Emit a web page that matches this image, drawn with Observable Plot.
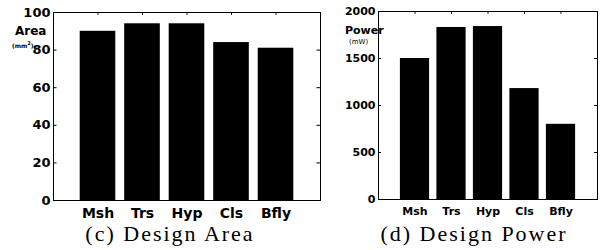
<!DOCTYPE html>
<html>
<head>
<meta charset="utf-8">
<script src="https://cdn.jsdelivr.net/npm/d3@7"></script>
<script src="https://cdn.jsdelivr.net/npm/@observablehq/plot@0.6"></script>
<style>
  html, body { margin: 0; padding: 0; background: #fff; }
  #wrap { position: relative; width: 604px; height: 250px; overflow: hidden; background: #fff; }
  .panel { position: absolute; top: 0; }
  .cap { position: absolute; font-family: "Liberation Serif", "DejaVu Serif", serif; font-size: 22px; letter-spacing: 2px; color: #000; white-space: nowrap; transform: translateX(-50%); line-height: 1; }
  .ylab { position: absolute; font-family: "DejaVu Sans", sans-serif; font-weight: bold; color: #000; white-space: nowrap; line-height: 1; }
</style>
</head>
<body>
<div id="wrap">
  <div id="left" class="panel" style="left:0px"></div>
  <div id="right" class="panel" style="left:330px"></div>
  <div class="ylab" style="left:15px; top:25px; font-size:12px;">Area</div>
  <div class="ylab" style="left:12px; top:41px; font-size:6px;">(mm<sup style="font-size:5px">2</sup>)</div>
  <div class="ylab" style="left:345px; top:25px; font-size:11px;">Power</div>
  <div class="ylab" style="left:349px; top:39px; font-size:7px; font-weight:normal;">(mW)</div>
  <div class="cap" style="left:170px; top:223px;">(c) Design Area</div>
  <div class="cap" style="left:474px; top:223px;">(d) Design Power</div>
</div>
<script>
const categories = ["Msh", "Trs", "Hyp", "Cls", "Bfly"];
const areaValues = [90, 94, 94, 84, 81];
const powerValues = [1500, 1830, 1840, 1180, 800];
const areaTicks = [0, 20, 40, 60, 80, 100];
const powerTicks = [0, 500, 1000, 1500, 2000];

const catPos = categories.map((c, i) => i + 1);

function panel({values, ticks, ymax, width, mLeft, mRight, mTop, mBottom, tickFont, catFont, tickLen}) {
  const rows = categories.map((c, i) => ({cat: c, pos: i + 1, value: values[i]}));
  return Plot.plot({
    width, height: 222,
    marginLeft: mLeft, marginRight: mRight, marginTop: mTop, marginBottom: mBottom,
    style: {background: "white", color: "black"},
    x: {domain: [0, 6], axis: null},
    y: {domain: [0, ymax], axis: null},
    marks: [
      Plot.rectY(rows, {x1: d => d.pos - 0.4, x2: d => d.pos + 0.4, y: "value", fill: "black"}),
      Plot.frame({stroke: "black", strokeWidth: 1}),
      Plot.ruleY(ticks, {x1: 0, x2: tickLen, stroke: "black"}),
      Plot.ruleY(ticks, {x1: 6 - tickLen, x2: 6, stroke: "black"}),
      Plot.ruleX(catPos, {y1: ymax, y2: ymax * 0.985, stroke: "black"}),
      Plot.axisY(ticks, {tickSize: 0, tickPadding: 3, fontSize: tickFont, fontWeight: "bold", fontFamily: "DejaVu Sans",
        tickFormat: d3.format("d"), label: null}),
      Plot.axisX(catPos, {tickSize: 0, tickPadding: 8, fontSize: catFont, fontWeight: "bold", fontFamily: "DejaVu Sans",
        tickFormat: p => categories[p - 1], label: null})
    ]
  });
}

document.getElementById("left").appendChild(panel({
  values: areaValues, ticks: areaTicks, ymax: 100, width: 330,
  mLeft: 53, mRight: 10, mTop: 12, mBottom: 22, tickFont: 13, catFont: 14, tickLen: 0.08
}));
document.getElementById("right").appendChild(panel({
  values: powerValues, ticks: powerTicks, ymax: 2000, width: 274,
  mLeft: 48, mRight: 7, mTop: 11, mBottom: 23, tickFont: 11, catFont: 11, tickLen: 0.08
}));
</script>
</body>
</html>
